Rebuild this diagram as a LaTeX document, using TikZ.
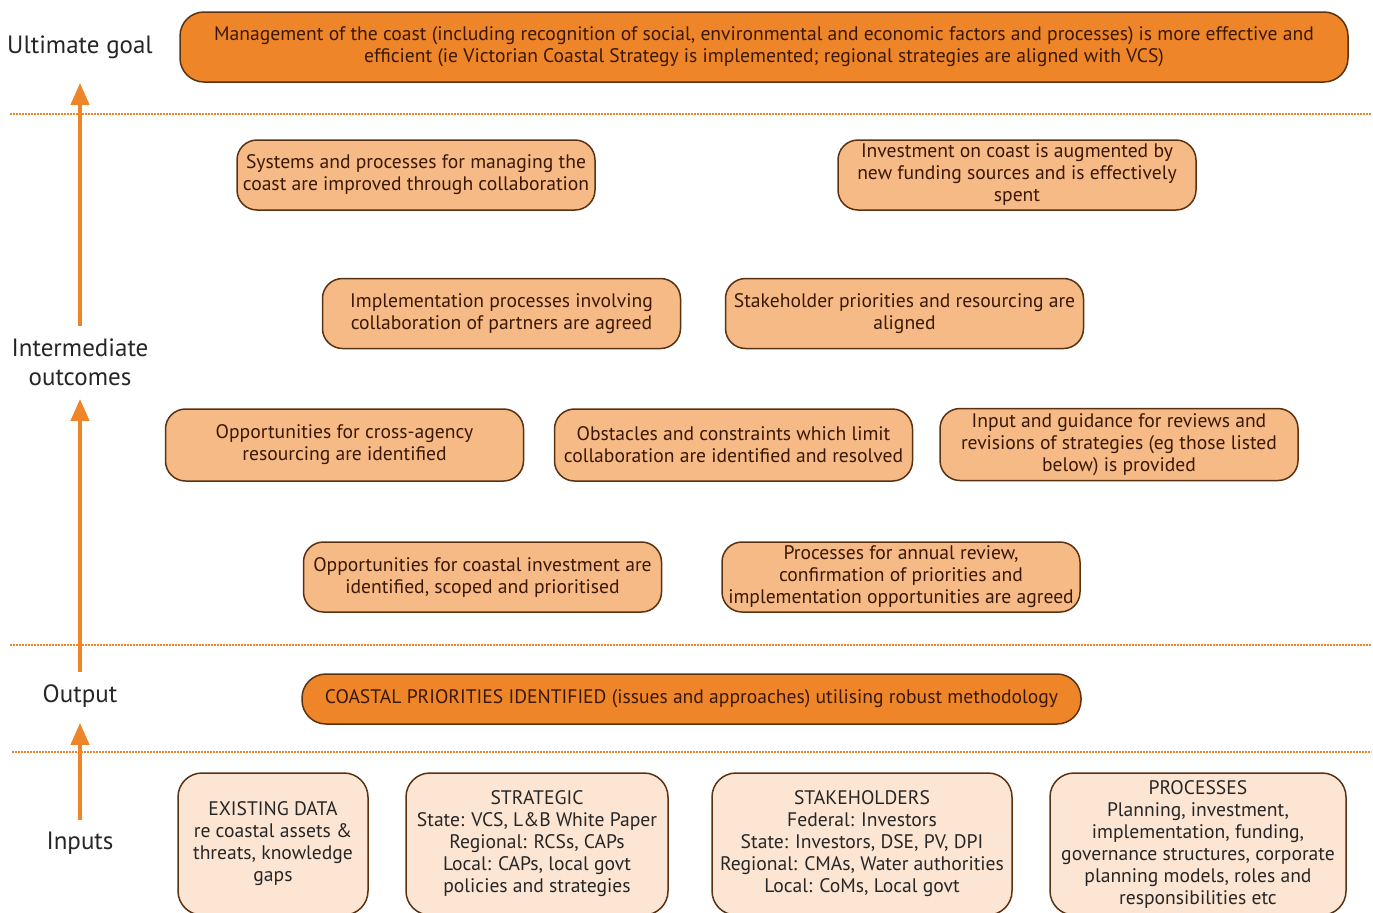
\documentclass[tikz,border=0pt]{standalone}
\usepackage{fontspec}
\setmainfont{PT Sans}
\usetikzlibrary{arrows.meta}
\definecolor{naranjaOscuro}{HTML}{EE8629}
\definecolor{naranjaClaro}{HTML}{F6BA86}
\definecolor{durazno}{HTML}{FDE5D3}
\definecolor{cafeBorde}{HTML}{5A3212}
\definecolor{cafeTexto}{HTML}{3A1805}
\definecolor{grisTexto}{HTML}{262626}
\colorlet{colFlecha}{naranjaOscuro}
\tikzset{
  cajaBase/.style={
    draw=cafeBorde, line width=0.75pt, rounded corners=10pt,
    minimum height=35pt, minimum width=179pt, inner sep=1pt,
    align=center, text=cafeTexto, font=\fontsize{9.8}{11}\selectfont
  },
  cajaMeta/.style={cajaBase, fill=naranjaOscuro, rounded corners=12pt},
  cajaResultado/.style={cajaBase, fill=naranjaClaro},
  cajaInsumo/.style={cajaBase, fill=durazno, text=grisTexto, rounded corners=12pt,
    minimum height=71pt},
  etiquetaNivel/.style={font=\fontsize{12.5}{14.5}\selectfont, text=grisTexto,
    align=center, inner sep=1pt},
  flecha/.style={-{Triangle[length=11pt, width=9pt]}, line width=2pt, colFlecha},
  lineaPunteada/.style={colFlecha, line width=0.6pt, dash pattern=on 0.8pt off 0.7pt},
}
\begin{document}
\begin{tikzpicture}[x=0.5pt, y=-0.5pt]
  \clip (0,0) rectangle (1373,912);

  % niveles
  \node[etiquetaNivel] (meta) at (80,47) {Ultimate goal};
  \node[etiquetaNivel] (intermedio) at (80,362) {Intermediate\\outcomes};
  \node[etiquetaNivel] (producto) at (80,696) {Output};
  \node[etiquetaNivel] (insumos) at (80,843) {Inputs};

  \draw[lineaPunteada] (10,114) -- (1371,114);
  \draw[lineaPunteada] (10,645) -- (1371,645);
  \draw[lineaPunteada] (12,752) -- (1371,752);

  \draw[flecha, shorten <=5pt, shorten >=11pt] (intermedio.north) -- (meta.south);
  \draw[flecha, shorten <=5pt, shorten >=5.5pt] (producto.north) -- (intermedio.south);
  \draw[flecha, shorten <=4.5pt, shorten >=6.5pt] (insumos.north) -- (producto.south);

  % meta final
  \node[cajaMeta, minimum width=584pt] (gestion) at (764,47)
    {Management of the coast (including recognition of social, environmental and economic factors and processes) is more effective and\\
     efficient (ie Victorian Coastal Strategy is implemented; regional strategies are aligned with VCS)};

  % resultados intermedios
  \node[cajaResultado] (sistemas) at (416,175)
    {Systems and processes for managing the\\coast are improved through collaboration};
  \node[cajaResultado] (inversion) at (1017,175)
    {Investment on coast is augmented by\\new funding sources and is effectively\\spent};
  \node[cajaResultado] (implementa) at (501.5,313.5)
    {Implementation processes involving\\collaboration of partners are agreed};
  \node[cajaResultado] (prioridades) at (904.5,313.5)
    {Stakeholder priorities and resourcing are\\aligned};
  \node[cajaResultado, minimum height=36pt] (oportunidades) at (344.5,445)
    {Opportunities for cross-agency\\resourcing are identified};
  \node[cajaResultado, minimum height=36pt] (obstaculos) at (733.5,445)
    {Obstacles and constraints which limit\\collaboration are identified and resolved};
  \node[cajaResultado, minimum height=36pt] (guia) at (1119,444.5)
    {Input and guidance for reviews and\\revisions of strategies (eg those listed\\below) is provided};
  \node[cajaResultado] (costera) at (482.5,577)
    {Opportunities for coastal investment are\\identified, scoped and prioritised};
  \node[cajaResultado] (anual) at (901,577)
    {Processes for annual review,\\confirmation of priorities and\\implementation opportunities are agreed};

  % producto
  \node[cajaMeta, minimum width=389.5pt, minimum height=25pt] (coastal) at (691.5,699)
    {COASTAL PRIORITIES IDENTIFIED (issues and approaches) utilising robust methodology};

  % insumos
  \node[cajaInsumo, minimum width=95pt] (datos) at (273,844)
    {EXISTING DATA\\re coastal assets \&\\threats, knowledge\\gaps};
  \node[cajaInsumo, minimum width=131pt] (estrategico) at (537,844)
    {STRATEGIC\\State: VCS, L\&B White Paper\\Regional: RCSs, CAPs\\Local: CAPs, local govt\\policies and strategies};
  \node[cajaInsumo, minimum width=150pt] (actores) at (862,844)
    {STAKEHOLDERS\\Federal: Investors\\State: Investors, DSE, PV, DPI\\Regional: CMAs, Water authorities\\Local: CoMs, Local govt};
  \node[cajaInsumo, minimum width=148pt] (procesos) at (1198,844)
    {PROCESSES\\Planning, investment,\\implementation, funding,\\governance structures, corporate\\planning models, roles and\\responsibilities etc};
\end{tikzpicture}
\end{document}
